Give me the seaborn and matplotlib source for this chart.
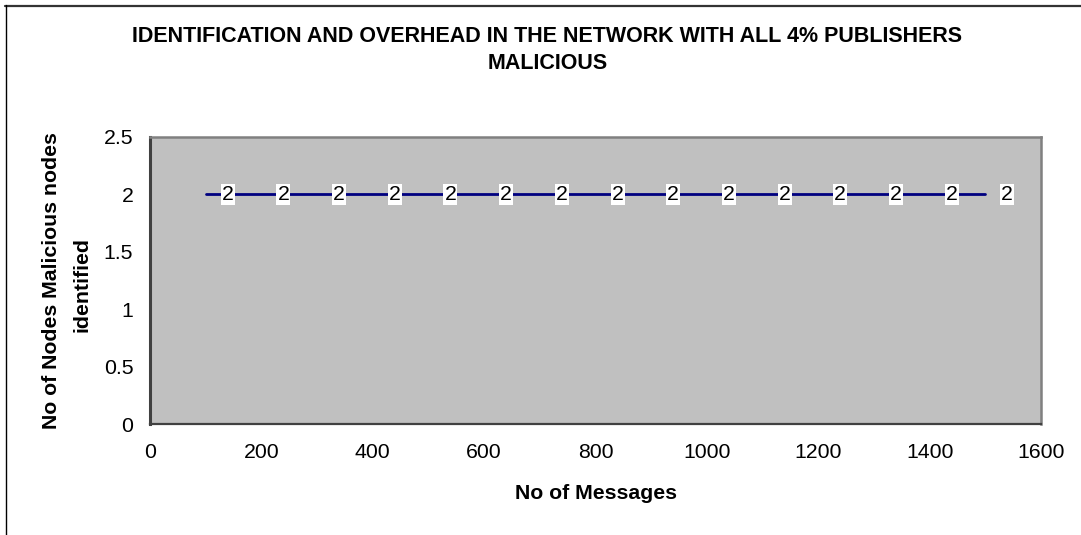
import matplotlib
matplotlib.use("Agg")
import matplotlib.pyplot as plt
from matplotlib.lines import Line2D
import seaborn as sns
import pandas as pd

# Series values
messages = [100, 200, 300, 400, 500, 600, 700, 800, 900, 1000, 1100, 1200, 1300, 1400, 1500]
malicious_identified = [2, 2, 2, 2, 2, 2, 2, 2, 2, 2, 2, 2, 2, 2, 2]

x_ticks = [0, 200, 400, 600, 800, 1000, 1200, 1400, 1600]
y_ticks = [0, 0.5, 1, 1.5, 2, 2.5]

title_lines = ["IDENTIFICATION AND OVERHEAD IN THE NETWORK WITH ALL 4% PUBLISHERS",
               "MALICIOUS"]
x_label = "No of Messages"
y_label_lines = ["No of Nodes Malicious nodes", "identified"]

df = pd.DataFrame({"messages": messages, "identified": malicious_identified})

sns.set_style("white")
plt.rcParams["font.family"] = ["Liberation Sans", "DejaVu Sans"]
plt.rcParams["text.color"] = "black"

W, H = 1081, 535
FS = 15.3
fig = plt.figure(figsize=(W / 100, H / 100), dpi=100)
fig.patch.set_facecolor("white")


def fx(px):
    return px / W


def fy(py):
    return 1 - py / H


ax = fig.add_axes([fx(150), fy(424), (1041 - 150) / W, (424 - 137) / H])
ax.set_facecolor("#C0C0C0")

sns.lineplot(data=df, x="messages", y="identified", ax=ax,
             color="#000080", linewidth=2.0, legend=False)

# value labels to the right of each point
for xv, yv in zip(messages, malicious_identified):
    ax.annotate(f"{yv:g}", (xv, yv), xytext=(22, 0), textcoords="offset pixels",
                ha="center", va="center", fontsize=FS, color="black",
                bbox=dict(boxstyle="square,pad=0.05", fc="white", ec="none"))

ax.set_xlim(0, 1600)
ax.set_ylim(0, 2.5)
ax.set_xticks(x_ticks)
ax.set_yticks(y_ticks)
ax.set_xticklabels([f"{v:g}" for v in x_ticks])
ax.set_yticklabels([f"{v:g}" for v in y_ticks])
ax.tick_params(axis="both", direction="out", length=5, width=1.1, color="#404040",
               labelsize=FS, labelcolor="black")
ax.tick_params(axis="x", pad=9)
ax.tick_params(axis="y", pad=7)

ax.spines["left"].set_color("#404040")
ax.spines["left"].set_linewidth(2.2)
ax.spines["bottom"].set_color("#404040")
ax.spines["bottom"].set_linewidth(1.6)
for side in ["top", "right"]:
    ax.spines[side].set_color("#808080")
    ax.spines[side].set_linewidth(1.8)

ax.set_xlabel("")
ax.set_ylabel("")

fig.text(fx(596), fy(499), x_label, ha="center", va="baseline", fontsize=FS,
         fontweight="bold")
fig.text(fx(52), fy(281), y_label_lines[0], ha="center", va="center", rotation=90,
         fontsize=FS, fontweight="bold")
fig.text(fx(82), fy(285), y_label_lines[1], ha="center", va="center", rotation=90,
         fontsize=FS, fontweight="bold")

fig.text(fx(547.5), fy(42), title_lines[0], ha="center", va="baseline",
         fontsize=15.5, fontweight="bold")
fig.text(fx(548), fy(69), title_lines[1], ha="center", va="baseline",
         fontsize=15.5, fontweight="bold")

# chart area border
fig.add_artist(Line2D([fx(5), 1], [fy(5.5), fy(5.5)], color="#333333", linewidth=1.6,
                      transform=fig.transFigure))
fig.add_artist(Line2D([fx(5.5), fx(5.5)], [0, fy(5)], color="black", linewidth=1.0,
                      transform=fig.transFigure))

fig.savefig("out.png", dpi=100)
